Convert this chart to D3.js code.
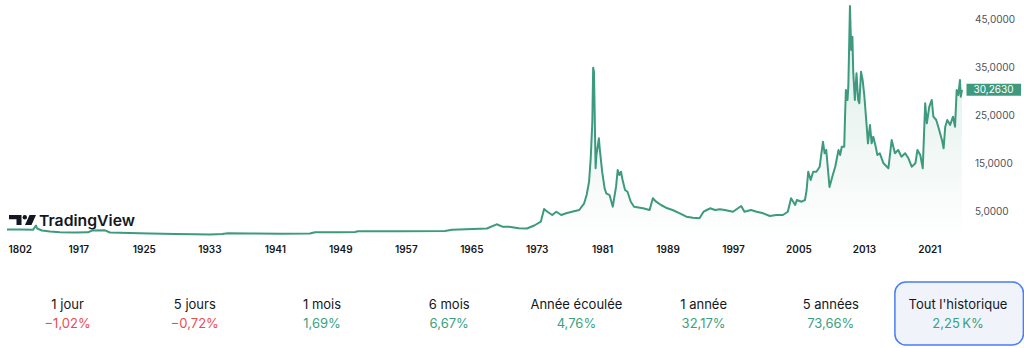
<!DOCTYPE html>
<html lang="fr">
<head>
<meta charset="utf-8">
<script src="https://cdn.jsdelivr.net/npm/d3@7"></script>
<style>
  html, body { margin: 0; padding: 0; background: #ffffff; }
  svg { display: block; font-family: Inter, "Noto Sans", sans-serif; }
</style>
</head>
<body>
<svg id="chart" width="1024" height="348"></svg>
<script>
// Silver price history (USD per ounce)
const years = [
  1802, 1849, 1896, 1907, 1911, 1912.56, 1913.54, 1914.76, 1916.59, 1918.18,
  1918.67, 1920.26, 1920.87, 1923.31, 1925.75, 1928.81, 1931.25, 1933.08, 1934.55, 1935.28,
  1937.97, 1941.63, 1945.29, 1945.9, 1948.96, 1950.79, 1951.16, 1956.29, 1961.78, 1962.64,
  1966.9, 1968.1, 1968.8, 1969.6, 1970.8, 1971.8, 1972.7, 1973.5, 1973.9, 1974.3,
  1974.9, 1975.4, 1976.0, 1976.6, 1977.3, 1978.2, 1978.8, 1979.1, 1979.4, 1979.6,
  1979.8, 1979.9, 1980.0, 1980.2, 1980.3, 1980.6, 1980.7, 1981.0, 1981.3, 1981.5,
  1981.9, 1982.3, 1982.7, 1982.9, 1983.1, 1983.3, 1983.5, 1983.8, 1984.1, 1984.5,
  1984.9, 1986.0, 1986.8, 1987.2, 1987.6, 1988.2, 1988.8, 1989.6, 1990.5, 1991.3,
  1992.1, 1992.9, 1993.4, 1993.8, 1994.2, 1994.8, 1995.4, 1996.0, 1997.0, 1998.0,
  1998.4, 1999.2, 1999.9, 2000.7, 2001.5, 2002.3, 2003.1, 2003.7, 2004.1, 2004.6,
  2004.8, 2005.4, 2005.8, 2006.0, 2006.2, 2006.5, 2006.8, 2007.2, 2007.6, 2008.0,
  2008.2, 2008.4, 2008.8, 2009.2, 2009.5, 2009.9, 2010.1, 2010.3, 2010.6, 2010.7,
  2010.8, 2011.0, 2011.1, 2011.3, 2011.45, 2011.6, 2011.7, 2011.9, 2012.1, 2012.3,
  2012.45, 2012.65, 2012.85, 2013.05, 2013.35, 2013.5, 2013.75, 2013.95, 2014.15, 2014.45,
  2014.65, 2014.95, 2015.4, 2016.0, 2016.4, 2016.8, 2017.2, 2017.6, 2018.05, 2018.45,
  2018.85, 2019.3, 2019.55, 2019.9, 2020.2, 2020.5, 2020.7, 2021.0, 2021.3, 2021.5,
  2021.85, 2022.1, 2022.55, 2022.75, 2022.95, 2023.2, 2023.55, 2023.9, 2024.15, 2024.35,
  2024.55, 2024.75, 2024.85, 2025.0
];
const prices = [
  1.15, 1.15, 1.08, 1.98, 1.35, 0.94, 0.73, 0.56, 0.52, 0.56,
  0.94, 0.98, 0.52, 0.42, 0.31, 0.21, 0.15, 0.12, 0.21, 0.35,
  0.31, 0.27, 0.31, 0.56, 0.56, 0.63, 0.77, 0.79, 0.83, 1.10,
  1.35, 2.23, 1.73, 1.73, 1.40, 1.35, 1.98, 2.77, 5.42, 4.85,
  4.17, 4.85, 4.17, 4.52, 4.85, 5.21, 6.60, 8.33, 11.10, 15.98,
  23.60, 34.85, 34.02, 13.90, 16.67, 20.15, 18.06, 13.19, 9.73, 8.69,
  8.33, 5.90, 10.06, 13.54, 12.50, 13.19, 11.46, 9.38, 9.02, 6.94,
  5.90, 5.56, 5.21, 7.65, 6.94, 6.25, 5.69, 5.21, 4.52, 3.81,
  3.60, 3.48, 4.85, 5.21, 5.56, 5.21, 5.35, 5.21, 4.85, 6.04,
  4.85, 5.21, 4.85, 4.52, 3.96, 4.17, 4.17, 4.85, 7.65, 6.25,
  7.29, 6.94, 7.29, 9.38, 13.19, 11.46, 13.19, 13.19, 14.23, 19.44,
  17.02, 17.71, 10.00, 12.50, 14.23, 17.71, 16.67, 18.40, 18.40, 24.65,
  30.21, 28.13, 30.90, 47.71, 38.54, 41.31, 34.02, 28.13, 33.69, 28.13,
  27.44, 34.02, 32.29, 29.17, 22.56, 19.10, 22.92, 19.10, 20.48, 18.40,
  16.67, 17.02, 14.94, 13.90, 19.79, 17.02, 17.71, 16.31, 17.02, 15.98,
  14.23, 14.94, 17.71, 16.67, 13.90, 27.44, 23.27, 26.73, 28.13, 24.65,
  23.96, 22.56, 19.79, 18.06, 22.56, 23.96, 22.92, 24.65, 22.56, 30.21,
  29.17, 32.29, 28.81, 30.263
];
const lastPrice = 30.263;

// Axis ticks
const tickYears = [1802, 1917, 1925, 1933, 1941, 1949, 1957, 1965, 1973, 1981, 1989, 1997, 2005, 2013, 2021];
const priceTicks = [5, 15, 25, 35, 45];

// Performance summary
const periodLabels = ["1 jour", "5 jours", "1 mois", "6 mois", "Année écoulée", "1 année", "5 années", "Tout l'historique"];
const periodChanges = [-1.02, -0.72, 1.69, 6.67, 4.76, 32.17, 73.66, 2250];
const selectedPeriod = 7;

const svg = d3.select("#chart");
const fr = d3.formatLocale({ decimal: ",", thousands: "\u202f", grouping: [3], currency: ["", " €"], minus: "\u2212" });
const fmtPrice = fr.format(".4f");
const fmtPct = fr.format(".2f");

// Early records are sparse, so the time axis is compressed before 1912
const x = d3.scaleLinear()
  .domain([1802, 1912, 1965, 2025])
  .range([7, 37.4, 471.3, 962]);
const y = d3.scaleLinear().domain([0, 50]).range([235, -5]);
const plotBottom = 240;

const data = years.map((t, i) => ({ t, v: prices[i] }));

// Area gradient
const defs = svg.append("defs");
const grad = defs.append("linearGradient")
  .attr("id", "areaFill")
  .attr("gradientUnits", "userSpaceOnUse")
  .attr("x1", 0).attr("y1", 0).attr("x2", 0).attr("y2", plotBottom);
grad.append("stop").attr("offset", 0).attr("stop-color", "#3d9a7e").attr("stop-opacity", 0.2);
grad.append("stop").attr("offset", 1).attr("stop-color", "#3d9a7e").attr("stop-opacity", 0.0);

svg.append("path")
  .datum(data)
  .attr("fill", "url(#areaFill)")
  .attr("d", d3.area().x(d => x(d.t)).y0(plotBottom).y1(d => y(d.v)));

svg.append("path")
  .datum(data)
  .attr("fill", "none")
  .attr("stroke", "#3d9a7e")
  .attr("stroke-width", 2)
  .attr("stroke-linejoin", "round")
  .attr("d", d3.line().x(d => x(d.t)).y(d => y(d.v)));

// Price axis on the right
const yAxis = d3.axisRight(y).tickValues(priceTicks).tickSize(0).tickPadding(0).tickFormat(fmtPrice);
const yg = svg.append("g").attr("transform", "translate(975,0)").call(yAxis);
yg.select(".domain").remove();
yg.selectAll("text")
  .attr("x", 0)
  .attr("font-family", "Inter, sans-serif")
  .attr("font-size", 10)
  .attr("fill", "#4c525e");

// Last price tag
const tag = svg.append("g").attr("transform", `translate(966.5,${y(lastPrice)})`);
tag.append("rect").attr("x", 0).attr("y", -6).attr("width", 54.5).attr("height", 12).attr("fill", "#3d9a7e");
tag.append("text")
  .attr("x", 27).attr("y", 0).attr("dy", "0.35em")
  .attr("text-anchor", "middle")
  .attr("font-size", 10).attr("fill", "#ffffff")
  .text(fmtPrice(lastPrice));

// Time axis
const xAxis = d3.axisBottom(x).tickValues(tickYears).tickSize(0).tickPadding(0).tickFormat(d3.format("d"));
const xg = svg.append("g").attr("transform", "translate(0,246)").call(xAxis);
xg.select(".domain").remove();
xg.selectAll("text")
  .attr("y", 0).attr("dy", "0.71em")
  .attr("font-family", "Inter, sans-serif")
  .attr("font-size", 10)
  .attr("font-weight", 600)
  .attr("fill", "#131722");
xg.selectAll("text").filter(d => d === tickYears[0])
  .attr("text-anchor", "start")
  .attr("dx", 1);

// TradingView watermark
const logo = svg.append("g").attr("fill", "#131722");
logo.append("path").attr("d", "M9,215 H21.5 V225 H16.5 V219.3 H9 Z");
logo.append("circle").attr("cx", 24.8).attr("cy", 217.2).attr("r", 2.2);
logo.append("path").attr("d", "M29.5,215 H36 L31.5,225 H25 Z");
logo.append("text")
  .attr("x", 39).attr("y", 226)
  .attr("font-size", 15).attr("font-weight", 600)
  .attr("textLength", 96).attr("lengthAdjust", "spacingAndGlyphs")
  .text("TradingView");

// Performance row
const colW = 127.2;
const stats = svg.append("g");
stats.append("rect")
  .attr("x", 4 + colW * selectedPeriod + 0.5).attr("y", 282)
  .attr("width", 128.5).attr("height", 63)
  .attr("rx", 11)
  .attr("fill", "#f0f3fa")
  .attr("stroke", "#4a7cf6")
  .attr("stroke-width", 1.5);

const fmtChange = v => Math.abs(v) >= 1000 ? fmtPct(v / 1000) + "\u202fK%" : fmtPct(v) + "%";
const cell = stats.selectAll("g.cell").data(periodLabels).join("g")
  .attr("class", "cell")
  .attr("transform", (d, i) => `translate(${4 + colW * (i + 0.5)},0)`);
cell.append("text")
  .attr("y", 308.5).attr("text-anchor", "middle")
  .attr("font-size", 13).attr("fill", "#131722")
  .text(d => d);
cell.append("text")
  .attr("y", 327.5).attr("text-anchor", "middle")
  .attr("font-size", 13)
  .attr("fill", (d, i) => periodChanges[i] < 0 ? "#ef4a52" : "#3a9f7f")
  .text((d, i) => fmtChange(periodChanges[i]));
</script>
</body>
</html>
